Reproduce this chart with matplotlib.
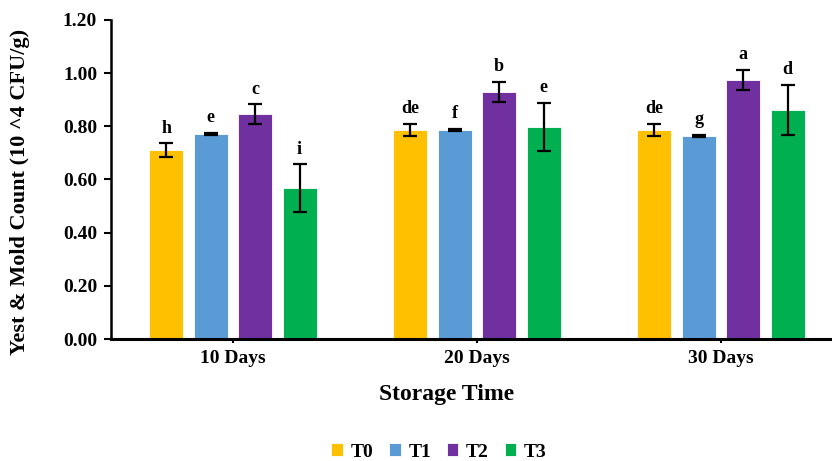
import matplotlib.pyplot as plt
import numpy as np

plt.rcParams['font.family'] = ['Liberation Serif', 'DejaVu Serif']
plt.rcParams['font.weight'] = 'bold'

# datos
dias = ["10 Days", "20 Days", "30 Days"]
tratamientos = ["T0", "T1", "T2", "T3"]
colores = ["#FFC000", "#5B9BD5", "#7030A0", "#00B050"]

t0 = [0.711, 0.786, 0.786]
t1 = [0.771, 0.786, 0.764]
t2 = [0.845, 0.930, 0.974]
t3 = [0.567, 0.799, 0.861]
valores = [t0, t1, t2, t3]

err_t0 = [0.025, 0.023, 0.023]
err_t1 = [0.005, 0.005, 0.003]
err_t2 = [0.038, 0.038, 0.038]
err_t3 = [0.090, 0.090, 0.095]
errores = [err_t0, err_t1, err_t2, err_t3]

letras = [["h", "de", "de"],
          ["e", "f", "g"],
          ["c", "b", "a"],
          ["i", "e", "d"]]

fig = plt.figure(figsize=(8.32, 4.61), dpi=100)
ax = fig.add_axes([111/832, 122/461, 721/832, 319/461])

x = np.arange(len(dias))
paso = 0.182
ancho = 0.14

for i in range(len(tratamientos)):
    pos = x + (i - 1.5) * paso
    ax.bar(pos, valores[i], width=ancho, color=colores[i], edgecolor='white',
           linewidth=0.6, label=tratamientos[i], zorder=2)
    ax.errorbar(pos, valores[i], yerr=errores[i], fmt='none', ecolor='black',
                elinewidth=1.6, capsize=5, capthick=1.6, zorder=3)
    for j in range(len(dias)):
        ax.text(pos[j], valores[i][j] + errores[i][j] + 0.025, letras[i][j],
                ha='center', va='bottom', fontsize=13, fontweight='bold')

ax.set_ylim(0, 1.2)
ax.set_yticks(np.arange(0, 1.21, 0.2))
ax.set_yticklabels(["%.2f" % v for v in np.arange(0, 1.21, 0.2)], fontsize=14, fontweight='bold')
ax.set_xlim(-0.5, 2.455)
ax.set_xticks(x)
ax.set_xticklabels(dias, fontsize=14, fontweight='bold')
ax.tick_params(axis='y', length=5, width=1.5, direction='out', pad=5)
ax.tick_params(axis='x', length=3, width=1.5, direction='out', pad=5)

ax.spines['top'].set_visible(False)
ax.spines['right'].set_visible(False)
ax.spines['left'].set_linewidth(1.8)
ax.spines['bottom'].set_linewidth(2.2)

ax.set_ylabel("Yest & Mold Count (10 ^4 CFU/g)", fontsize=16, fontweight='bold')
ax.yaxis.set_label_coords(-(111 - 30)/721, 0.46)
ax.set_xlabel("Storage Time", fontsize=17, fontweight='bold')
ax.xaxis.set_label_coords((447 - 111)/721, -(384 - 339)/319)

fig.legend(loc='center', bbox_to_anchor=(439/832, 1 - 452/461), ncol=4, frameon=False,
           handlelength=0.6, handleheight=0.6, handletextpad=0.4, columnspacing=0.8,
           prop={'size': 14, 'weight': 'bold'})

fig.savefig("out.png", dpi=100)
